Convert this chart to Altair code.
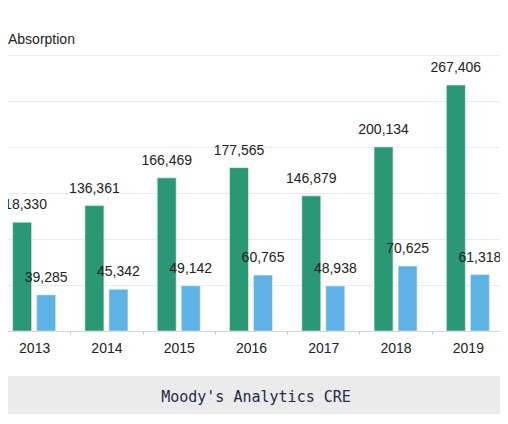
import altair as alt
import pandas as pd

years = ["2013", "2014", "2015", "2016", "2017", "2018", "2019"]
series_a = [118330, 136361, 166469, 177565, 146879, 200134, 267406]
series_b = [39285, 45342, 49142, 60765, 48938, 70625, 61318]
series_names = ["A", "B"]
colors = ["#2a9874", "#5eb2e6"]
footer_text = "Moody's Analytics CRE"
title_text = "Absorption"

rows = []
for i, y in enumerate(years):
    rows.append({"year": y, "series": series_names[0], "value": series_a[i]})
    rows.append({"year": y, "series": series_names[1], "value": series_b[i]})
df = pd.DataFrame(rows)

W, H = 492, 276

xscale = alt.Scale(domain=years, range=[-10, 496], paddingInner=0, paddingOuter=0)
yscale = alt.Scale(domain=[0, 300000], nice=False)
offscale = alt.Scale(domain=series_names, paddingInner=0.21, paddingOuter=0.61)

base = alt.Chart(df).encode(
    x=alt.X("year:N", scale=xscale, sort=years,
            axis=alt.Axis(title=None, labelAngle=0, tickBand="extent", tickSize=3,
                          tickColor="#c8c8c8", domainColor="#d4d4d4", labelFontSize=14,
                          labelFont="Liberation Sans", labelColor="#222222",
                          labelPadding=7, grid=False)),
    xOffset=alt.XOffset("series:N", scale=offscale),
)

bars = base.mark_bar(stroke="#e8f4ee", strokeWidth=0.6).encode(
    y=alt.Y("value:Q", scale=yscale,
            axis=alt.Axis(title=None, labels=False, ticks=False, domain=False,
                          values=[0, 50000, 100000, 150000, 200000, 250000, 300000],
                          gridColor="#ebebeb", gridWidth=1)),
    color=alt.Color("series:N", scale=alt.Scale(domain=series_names, range=colors), legend=None),
)

labels = base.mark_text(baseline="alphabetic", dy=-13, fontSize=14,
                        font="Liberation Sans", color="#222222").encode(
    y=alt.Y("value:Q", scale=yscale),
    text=alt.Text("value:Q", format=","),
)

one = alt.InlineData(values=[{"t": footer_text}])
footer_rect = alt.Chart(one).mark_rect(color="#ebebeb").encode(
    x=alt.value(-10), x2=alt.value(510), y=alt.value(321), y2=alt.value(359)
)
footer_txt = alt.Chart(one).mark_text(font="DejaVu Sans Mono", fontSize=15,
                                      color="#1f2a4a", baseline="alphabetic", align="center").encode(
    x=alt.value(248), y=alt.value(347), text="t:N"
)

chart = alt.layer(bars, labels, footer_rect, footer_txt).properties(
    width=W, height=H,
    autosize=alt.AutoSizeParams(type="none"),
    padding={"left": 0, "top": 47, "right": 0, "bottom": 85},
    title=alt.TitleParams(title_text, anchor="start", frame="group", fontSize=14,
                          font="Liberation Sans", fontWeight="normal", color="#222222",
                          baseline="alphabetic", offset=12, dy=15),
).configure_view(stroke=None)

chart.save("out.html", embed_options={"renderer": "svg", "actions": False})
